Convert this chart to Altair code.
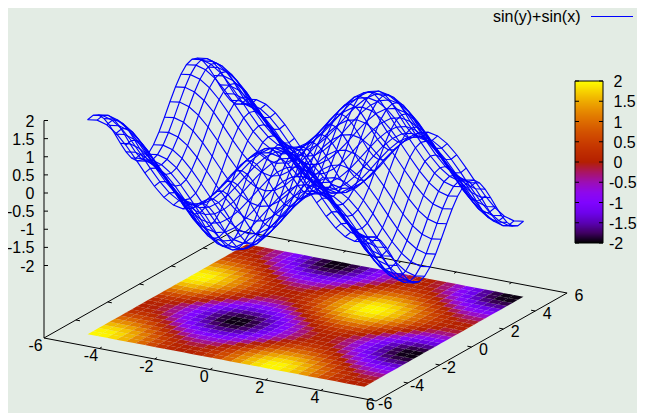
import altair as alt
import pandas as pd

# Sample positions of the 30 x 30 grid, and the value of the curve at each one
grid = [-5.0, -4.655, -4.31, -3.966, -3.621, -3.276, -2.931, -2.586, -2.241, -1.897,
        -1.552, -1.207, -0.862, -0.517, -0.172, 0.172, 0.517, 0.862, 1.207, 1.552,
        1.897, 2.241, 2.586, 2.931, 3.276, 3.621, 3.966, 4.31, 4.655, 5.0]
wave = [0.959, 0.998, 0.920, 0.734, 0.461, 0.134, -0.209, -0.527, -0.783, -0.947,
        -1.0, -0.935, -0.759, -0.494, -0.172, 0.172, 0.494, 0.759, 0.935, 1.0,
        0.947, 0.783, 0.527, 0.209, -0.134, -0.461, -0.734, -0.920, -0.998, -0.959]

xy_ticks = [-6, -4, -2, 0, 2, 4, 6]
z_ticks = [2, 1.5, 1, 0.5, 0, -0.5, -1, -1.5, -2]
z_labels = ["2", "1.5", "1", "0.5", "0", "-0.5", "-1", "-1.5", "-2"]
legend_label = "sin(y)+sin(x)"

palette_levels = [-2, -1.75, -1.5, -1.25, -1, -0.75, -0.5, -0.25, 0,
                  0.25, 0.5, 0.75, 1, 1.25, 1.5, 1.75, 2]
palette_colors = ["#000000", "#400062", "#5a01b4", "#6e02ec", "#8004ff", "#8e08ec",
                  "#9c0eb4", "#a91562", "#b42000", "#bf2d00", "#ca3e00", "#d35300",
                  "#dd6c00", "#e68900", "#eeab00", "#f7d200", "#ffff00"]

BG = "#e3ece4"
FONT = "Liberation Sans"
FS = 16

# Projection of the 3D box on the page (page pixels)
ORIGIN = (44.0, 338.0)
UX = (27.67, 5.25)
UY = (15.92, -9.0)
UZ = -36.25


def proj(x, y, z=-4.0):
    dx, dy = x + 6, y + 6
    return (ORIGIN[0] + dx * UX[0] + dy * UY[0],
            ORIGIN[1] + dx * UX[1] + dy * UY[1] + (z + 4) * UZ)


W, H = 629, 405
X = alt.X("px:Q", scale=alt.Scale(domain=[8, 8 + W], nice=False, zero=False), axis=None)
Y = alt.Y("py:Q", scale=alt.Scale(domain=[8 + H, 8], nice=False, zero=False), axis=None)
color_scale = alt.Scale(domain=palette_levels, range=palette_colors, interpolate="rgb")

# pm3d base cells
n = len(grid)
cells = []
for i in range(n - 1):
    for j in range(n - 1):
        cx, cy = (grid[i] + grid[i + 1]) / 2, (grid[j] + grid[j + 1]) / 2
        z = (wave[i] + wave[i + 1] + wave[j] + wave[j + 1]) / 2
        px, py = proj(cx, cy)
        cells.append({"px": px, "py": py, "z": z})
step = grid[1] - grid[0]
ax, ay = UX[0] * step / 2, UX[1] * step / 2
bx, by = UY[0] * step / 2, UY[1] * step / 2
cell_path = (f"M{-ax-bx:.3f} {-ay-by:.3f}L{ax-bx:.3f} {ay-by:.3f}"
             f"L{ax+bx:.3f} {ay+by:.3f}L{-ax+bx:.3f} {-ay+by:.3f}Z")
cell_layer = alt.Chart(pd.DataFrame(cells)).mark_point(
    filled=True, shape=cell_path, size=4, opacity=1, strokeWidth=0
).encode(x=X, y=Y, color=alt.Color("z:Q", scale=color_scale, legend=None))

# wire mesh
wire = []
for i in range(n):
    for j in range(n):
        z = wave[i] + wave[j]
        px, py = proj(grid[i], grid[j], z)
        wire.append({"px": px, "py": py, "line": f"x{i}", "k": j})
        wire.append({"px": px, "py": py, "line": f"y{j}", "k": i})
wire_layer = alt.Chart(pd.DataFrame(wire)).mark_line(color="#0000ff", strokeWidth=1.15).encode(
    x=X, y=Y, detail="line:N", order="k:Q")

# frame and ticks
seg = []


def add(p, q):
    seg.append({"px": p[0], "py": p[1], "px2": q[0], "py2": q[1]})


add(proj(-6, -6), proj(6, -6))
add(proj(6, -6), proj(6, 6))
add(proj(6, 6), proj(-6, 6))
add(proj(-6, 6), proj(-6, -6))
add(proj(-6, -6), proj(-6, -6, 2))
TL = 0.15
for t in xy_ticks[1:-1]:
    add(proj(t, -6), proj(t, -6 + TL))
    add(proj(t, 6), proj(t, 6 - TL))
    add(proj(-6, t), proj(-6 + TL, t))
    add(proj(6, t), proj(6 - TL, t))
za = proj(-6, -6, 0)[0]
for t in z_ticks:
    py = proj(-6, -6, t)[1]
    add((za, py), (za + 4, py))
seg_layer = alt.Chart(pd.DataFrame(seg)).mark_rule(color="#000000", strokeWidth=1).encode(
    x=X, y=Y, x2="px2:Q", y2="py2:Q")

# axis labels (the last x label is held just inside the bottom edge)
lab = []
for t in xy_ticks:
    p = proj(t, -6)
    lab.append({"px": p[0] - 1.3, "py": min(p[1] + 7.5, 404.5), "t": str(t), "a": "x"})
for t in xy_ticks:
    p = proj(6, t)
    lab.append({"px": p[0] + 16.3, "py": p[1] + 3, "t": str(t), "a": "y"})
for t, s in zip(z_ticks, z_labels):
    p = proj(-6, -6, t)
    lab.append({"px": 34.5, "py": p[1] + 1, "t": s, "a": "z"})
lab_layer = alt.Chart(pd.DataFrame(lab)).mark_text(
    font=FONT, fontSize=FS, align="right", baseline="middle", color="#000000"
).encode(x=X, y=Y, text="t:N")

# colour box (moved a little left so that its labels stay inside the 629px canvas)
CB_L, CB_R, CB_T, CB_B = 575.0, 603.0, 81.0, 243.0
rows = int(CB_B - CB_T)
bar = []
for k in range(rows):
    bar.append({"px": CB_L, "px2": CB_R, "py": CB_T + k, "py2": CB_T + k + 1,
                "z": 2 - 4 * (k + 0.5) / rows})
bar_layer = alt.Chart(pd.DataFrame(bar)).mark_rect(opacity=1).encode(
    x=X, x2="px2:Q", y=Y, y2="py2:Q",
    color=alt.Color("z:Q", scale=color_scale, legend=None))

cb_seg = []


def add_cb(p, q):
    cb_seg.append({"px": p[0], "py": p[1], "px2": q[0], "py2": q[1]})


add_cb((CB_L, CB_T), (CB_R, CB_T))
add_cb((CB_R, CB_T), (CB_R, CB_B))
add_cb((CB_R, CB_B), (CB_L, CB_B))
add_cb((CB_L, CB_B), (CB_L, CB_T))
cb_lab = []
for t, s in zip(z_ticks, z_labels):
    py = CB_B - (t + 2) / 4 * (CB_B - CB_T)
    add_cb((CB_L, py), (CB_L + 4, py))
    add_cb((CB_R - 4, py), (CB_R, py))
    cb_lab.append({"px": 609.0 if s.startswith("-") else 613.5, "py": py + 1, "t": s})
cb_seg_layer = alt.Chart(pd.DataFrame(cb_seg)).mark_rule(color="#000000", strokeWidth=1).encode(
    x=X, y=Y, x2="px2:Q", y2="py2:Q")
cb_lab_layer = alt.Chart(pd.DataFrame(cb_lab)).mark_text(
    font=FONT, fontSize=FS, align="left", baseline="middle", color="#000000"
).encode(x=X, y=Y, text="t:N")

# key
key_text = alt.Chart(pd.DataFrame([{"px": 580.5, "py": 17.0, "t": legend_label}])).mark_text(
    font=FONT, fontSize=FS, align="right", baseline="middle", color="#000000"
).encode(x=X, y=Y, text="t:N")
key_line = alt.Chart(pd.DataFrame([{"px": 591.0, "py": 16.5, "px2": 633.0, "py2": 16.5}])).mark_rule(
    color="#0000ff", strokeWidth=1).encode(x=X, y=Y, x2="px2:Q", y2="py2:Q")

chart = alt.layer(
    cell_layer, seg_layer, wire_layer, lab_layer,
    bar_layer, cb_seg_layer, cb_lab_layer, key_text, key_line
).resolve_scale(color="shared").properties(
    width=W, height=H, padding=0, autosize="none", background=BG
).configure_view(stroke=None)

chart.save("out.html", embed_options={"renderer": "svg", "actions": False})
